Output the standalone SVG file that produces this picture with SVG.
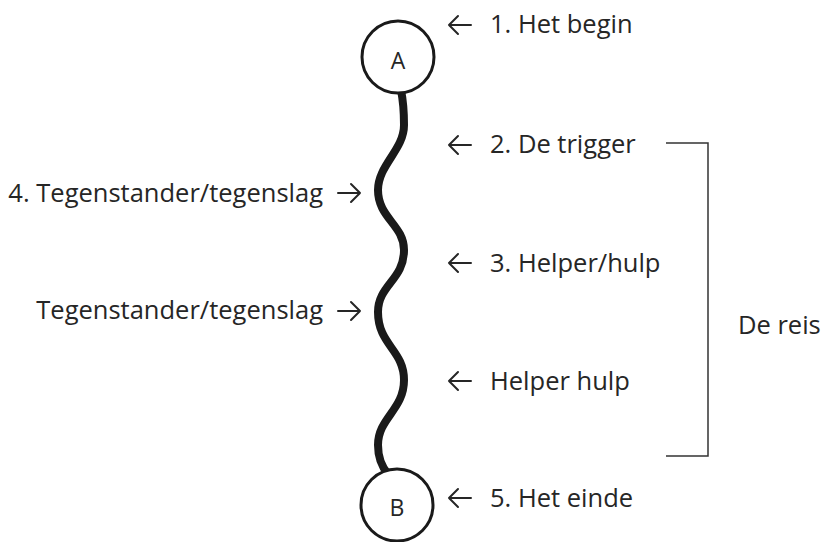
<svg xmlns="http://www.w3.org/2000/svg" width="822" height="542" viewBox="0 0 822 542">
<style>
  .t { font-family: "Open Sans", "Noto Sans", sans-serif; font-size: 25.5px; fill: #262626; }
  .r { text-anchor: end; }
  .c { font-family: "Open Sans", "Noto Sans", sans-serif; font-size: 23px; fill: #262626; text-anchor: middle; }
  .node { fill: #fff; stroke: #1a1a1a; stroke-width: 3; }
  .arr { fill: none; stroke: #262626; stroke-width: 2; stroke-linecap: round; stroke-linejoin: round; }
  .wave { fill: none; stroke: #1a1a1a; stroke-width: 8; stroke-linecap: butt; }
  .br { fill: none; stroke: #333; stroke-width: 1.5; }
</style>
<g id="connectors">
  <path class="wave" d="M401,90 C403,100 404,112 404,125 C404,150 378,165 378,190 C378,218 404,225 404,250 C404,280 378,285 378,312 C378,345 404,350 404,380 C404,410 378,418 378,445 C378,458 382,467 388,474"/>
  <path class="br" d="M666,143 H708 V456 H666"/>
  <g id="arrows">
    <path class="arr" d="M471,25 H449 M458,16 L449,25 L458,34"/>
    <path class="arr" d="M471,145 H449 M458,136 L449,145 L458,154"/>
    <path class="arr" d="M471,263 H449 M458,254 L449,263 L458,272"/>
    <path class="arr" d="M471,381 H449 M458,372 L449,381 L458,390"/>
    <path class="arr" d="M471,498 H449 M458,489 L449,498 L458,507"/>
    <path class="arr" d="M338,193 H360 M351,184 L360,193 L351,202"/>
    <path class="arr" d="M338,311 H360 M351,302 L360,311 L351,320"/>
  </g>
</g>
<g id="nodeA">
  <circle class="node" cx="398" cy="57" r="36"/>
  <text class="c" x="398" y="69">A</text>
</g>
<g id="nodeB">
  <circle class="node" cx="397" cy="505" r="36"/>
  <text class="c" x="397" y="516">B</text>
</g>
<g id="labels">
  <text class="t" x="490" y="33">1. Het begin</text>
  <text class="t" x="490" y="153">2. De trigger</text>
  <text class="t" x="490" y="272">3. Helper/hulp</text>
  <text class="t" x="490" y="390">Helper hulp</text>
  <text class="t" x="490" y="507">5. Het einde</text>
  <text class="t r" x="323" y="202">4. Tegenstander/tegenslag</text>
  <text class="t r" x="323" y="319">Tegenstander/tegenslag</text>
  <text class="t" x="738" y="334">De reis</text>
</g>
</svg>
